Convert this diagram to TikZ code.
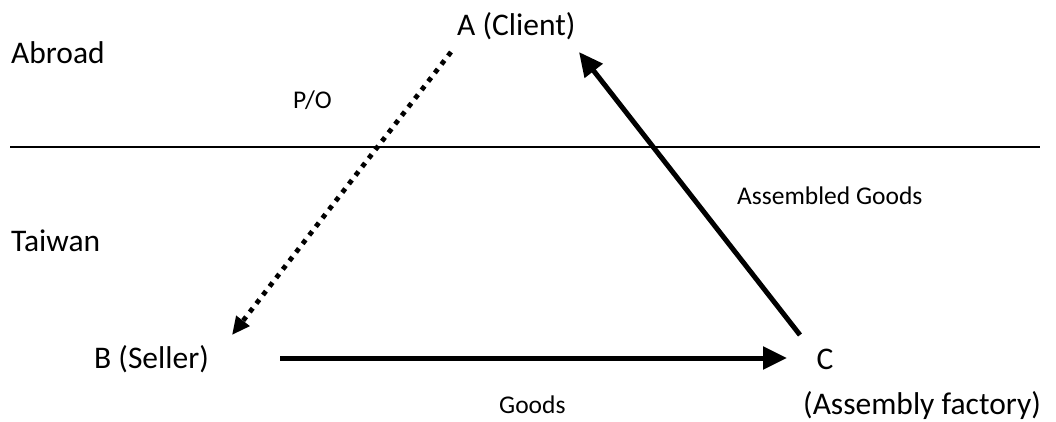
\documentclass[tikz,border=0pt]{standalone}
\usepackage{fontspec}
\setmainfont{Carlito}
\usetikzlibrary{arrows.meta,positioning}

\begin{document}
\begin{tikzpicture} [
        x=1pt, y=-1pt,
        every node/.style={inner sep=0pt, anchor=base west},
        big/.style={font=\fontsize{31.5}{38}\selectfont},
        small/.style={font=\fontsize{25.5}{30}\selectfont},
        flow/.style={line width=5pt, -{Triangle[length=24pt, width=22pt]}},
        order/.style={line width=4.8pt, dash pattern=on 4.8pt off 6pt, -{Triangle[length=18pt, width=16pt]}}
    ]
    \useasboundingbox (0,0) rectangle (1056,421);

    % regions
    \node[big]   (abroad) at (11,63)   {Abroad};
    \node[big]   (taiwan) at (11,251)  {Taiwan};
    \coordinate  (borderL) at (10,147);
    \coordinate  (borderR) at (1040,147);
    \draw[line width=1.8pt] (borderL) -- (borderR);

    % parties
    \node[big]   (A)     at (457,35)   {A (Client)};
    \node[big]   (B)     at (94,368)   {B (Seller)};
    \node[big]   (C)     at (816.5,369) {C};
    \node[big]   (Cname) at (803,414)  {(Assembly factory)};

    % flow labels
    \node[small] (po)    at (293,108)  {P/O};
    \node[small] (ag)    at (737,204)  {Assembled Goods};
    \node[small] (goods) at (499,413)  {Goods};

    % arrow ends
    \coordinate  (poS) at (451,52);
    \coordinate  (poE) at (232,335);
    \coordinate  (agS) at (800,335);
    \coordinate  (agE) at (579,52);
    \coordinate  (gS)  at (280,358);
    \coordinate  (gE)  at (787,358);

    \draw[order] (poS) -- (poE); % A -> B
    \draw[flow]  (agS) -- (agE); % C -> A
    \draw[flow]  (gS)  -- (gE);  % B -> C
\end{tikzpicture}
\end{document}
